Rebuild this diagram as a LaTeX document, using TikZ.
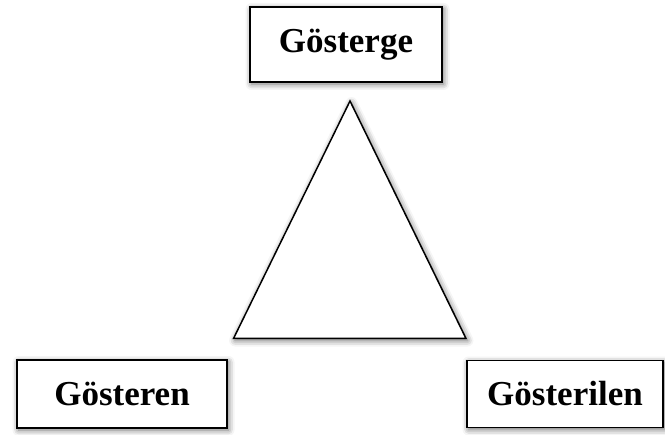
\documentclass[tikz,border=0pt]{standalone}
\usepackage{fontspec}
\setmainfont{Liberation Serif}
\usetikzlibrary{shadows.blur}
\tikzset{
  termbox/.style={draw=black, line width=1.8pt, fill=white, inner sep=0pt,
    font=\fontsize{35}{38}\selectfont\bfseries,
    blur shadow={shadow xshift=1.5pt, shadow yshift=-2pt, shadow blur radius=6pt, shadow opacity=60}},
  tri/.style={draw=black, line width=1.5pt, fill=white, line join=miter,
    blur shadow={shadow xshift=1.5pt, shadow yshift=-2pt, shadow blur radius=6pt, shadow opacity=60}}
}
\begin{document}
\begin{tikzpicture}[x=1pt, y=-1pt]
\useasboundingbox (0,0) rectangle (665,435);
\node[termbox, minimum width=192pt, minimum height=75pt] (top) at (346,44.5) {Gösterge};
\node[termbox, minimum width=210pt, minimum height=68pt] (left) at (122,394) {Gösteren};
\node[termbox, minimum width=196pt, minimum height=67pt] (right) at (565,394) {Gösterilen};
\coordinate (apex) at (350,101);
\coordinate (bl) at (233.5,338.5);
\coordinate (br) at (466,338.5);
\draw[tri] (apex) -- (br) -- (bl) -- cycle;
\end{tikzpicture}
\end{document}
